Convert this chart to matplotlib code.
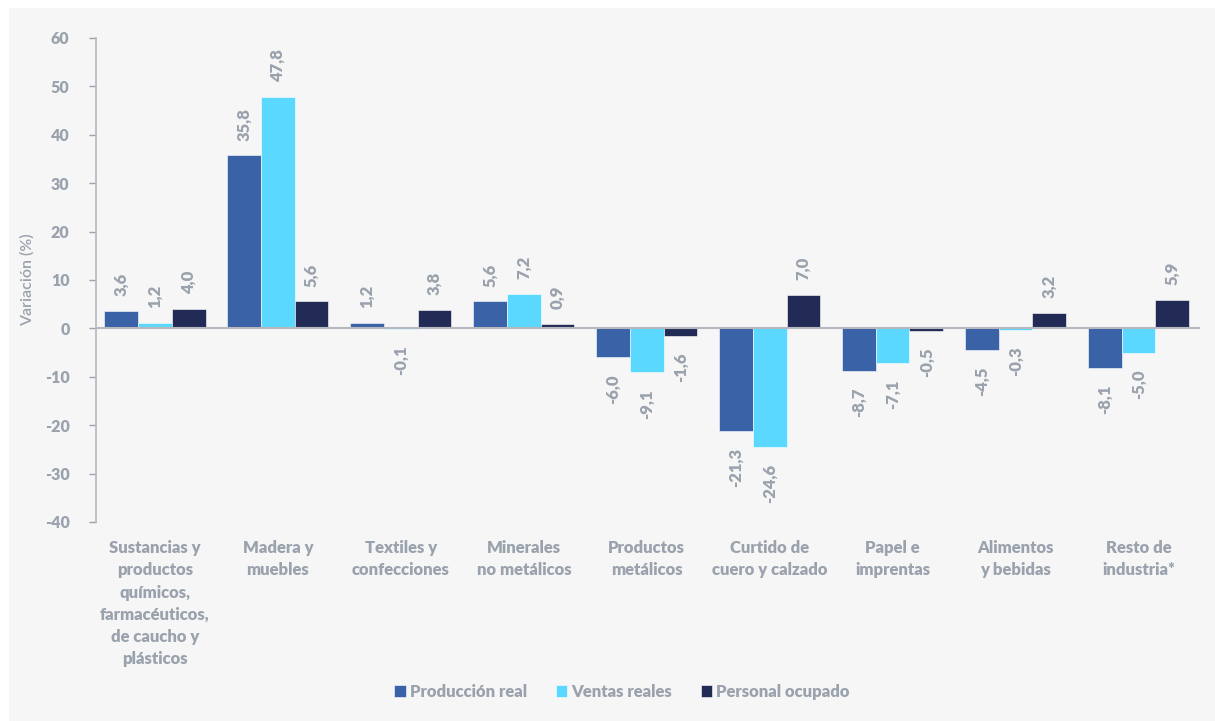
import matplotlib.pyplot as plt
import numpy as np
from matplotlib.patches import Rectangle

# Datos (variación %)
categorias = [
    "Sustancias y\nproductos\nquímicos,\nfarmacéuticos,\nde caucho y\nplásticos",
    "Madera y\nmuebles",
    "Textiles y\nconfecciones",
    "Minerales\nno metálicos",
    "Productos\nmetálicos",
    "Curtido de\ncuero y calzado",
    "Papel e\nimprentas",
    "Alimentos\ny bebidas",
    "Resto de\nindustria*",
]
produccion = [3.6, 35.8, 1.2, 5.6, -6.0, -21.3, -8.7, -4.5, -8.1]
ventas = [1.2, 47.8, -0.1, 7.2, -9.1, -24.6, -7.1, -0.3, -5.0]
personal = [4.0, 5.6, 3.8, 0.9, -1.6, 7.0, -0.5, 3.2, 5.9]
series = ["Producción real", "Ventas reales", "Personal ocupado"]
colores = ["#3A62A7", "#5BD8FF", "#212B55"]

gris = "#9AA2AD"
fondo = "#F6F6F6"
plt.rcParams['font.family'] = ['Lato', 'DejaVu Sans']
plt.rcParams['axes.unicode_minus'] = False

fig = plt.figure(figsize=(12.15, 7.21), dpi=100)
fig.patch.set_facecolor("white")
fig.patches.append(Rectangle((9/1215, 0), 1, 1 - 8/721, transform=fig.transFigure,
                             facecolor=fondo, edgecolor="none", zorder=-10))

ax = fig.add_axes([96/1215, 1 - 522/721, (1200 - 96)/1215, (522 - 38)/721])
ax.set_facecolor(fondo)

x = np.arange(len(categorias))
ancho = 0.274
for i, (vals, col) in enumerate(zip([produccion, ventas, personal], colores)):
    pos = x + (i - 1) * ancho
    ax.bar(pos, vals, ancho, color=col, edgecolor="white", linewidth=0.4,
           label=series[i], zorder=2)
    for xp, v in zip(pos, vals):
        txt = f"{v:.1f}".replace(".", ",")
        if v >= 0:
            ax.annotate(txt, (xp, v), xytext=(0, 10.5), textcoords="offset points",
                        rotation=90, ha="center", va="bottom", color=gris,
                        fontsize=12, fontweight="heavy")
        else:
            ax.annotate(txt, (xp, v), xytext=(0, -12), textcoords="offset points",
                        rotation=90, ha="center", va="top", color=gris,
                        fontsize=12, fontweight="heavy")

ax.axhline(0, color="#B5B8BE", linewidth=1.5, zorder=3)
ax.set_ylim(-40, 60)
ax.set_yticks(range(-40, 61, 10))
ax.set_xlim(-0.48, len(categorias) - 0.5)
ax.set_xticks(x)
ax.set_xticklabels(categorias, fontsize=12, fontweight="heavy", color=gris,
                   linespacing=1.48, va="top")
ax.tick_params(axis="x", length=0, pad=13)
ax.tick_params(axis="y", colors=gris, labelsize=11.5, length=5, width=1, pad=14)
for lbl in ax.get_yticklabels():
    lbl.set_fontweight("heavy")
ax.set_ylabel("Variación (%)", color=gris, fontsize=11.5, fontweight="semibold")
ax.yaxis.set_label_coords(-0.056, 0.5)

for s in ["top", "right", "bottom"]:
    ax.spines[s].set_visible(False)
ax.spines["left"].set_color("#B5B8BE")
ax.spines["left"].set_linewidth(1.2)

leg = fig.legend(loc="center", bbox_to_anchor=(0.512, 1 - 692/721), ncol=3,
                 frameon=False, handlelength=0.7, handleheight=0.7,
                 handletextpad=0.25, columnspacing=1.7,
                 prop={"size": 12, "weight": "heavy"})
for t in leg.get_texts():
    t.set_color(gris)

fig.savefig("out.png", dpi=100, facecolor=fig.get_facecolor())
